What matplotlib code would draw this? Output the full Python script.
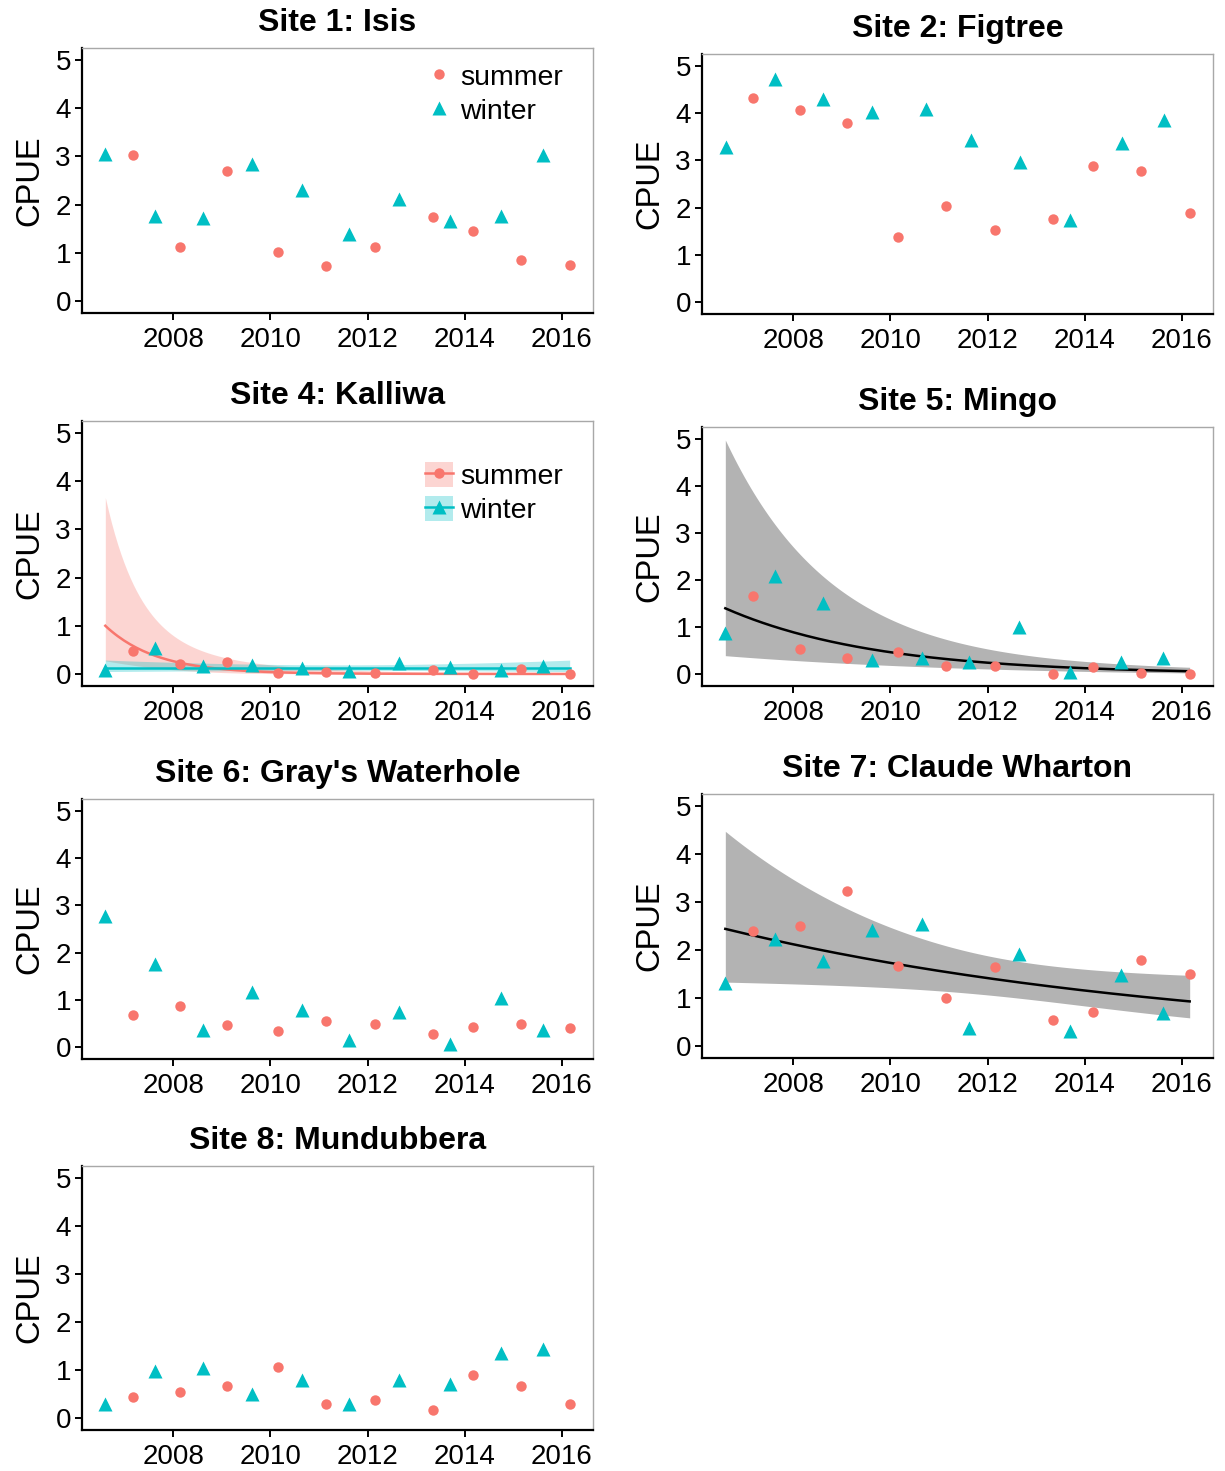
import numpy as np
import matplotlib
matplotlib.use("Agg")
import matplotlib.pyplot as plt
import matplotlib.patches as mpatches
from matplotlib.lines import Line2D

plt.rcParams['font.family'] = ['Liberation Sans', 'DejaVu Sans']

# sampling dates (decimal years)
summer_dates = [2007.16, 2008.14, 2009.10, 2010.15, 2011.15, 2012.16, 2013.34, 2014.17, 2015.16, 2016.16]
winter_dates = [2006.60, 2007.62, 2008.62, 2009.61, 2010.64, 2011.62, 2012.64, 2013.69, 2014.75, 2015.62]
winter_dates_s2 = [2006.61, 2007.62, 2008.62, 2009.61, 2010.74, 2011.66, 2012.66, 2013.69, 2014.76, 2015.63]

# CPUE values
isis_summer = [3.03, 1.11, 2.69, 1.02, 0.73, 1.13, 1.74, 1.45, 0.84, 0.74]
isis_winter = [3.06, 1.77, 1.72, 2.84, 2.30, 1.40, 2.11, 1.65, 1.76, 3.03]

figtree_summer = [4.31, 4.06, 3.80, 1.37, 2.04, 1.52, 1.76, 2.88, 2.78, 1.88]
figtree_winter = [3.28, 4.73, 4.30, 4.02, 4.09, 3.43, 2.97, 1.73, 3.36, 3.85]

kalliwa_summer = [0.48, 0.21, 0.24, 0.03, 0.05, 0.03, 0.09, 0.00, 0.10, 0.00]
kalliwa_winter = [0.09, 0.53, 0.17, 0.19, 0.12, 0.07, 0.22, 0.15, 0.09, 0.17]

mingo_summer = [1.66, 0.54, 0.34, 0.48, 0.18, 0.17, 0.00, 0.16, 0.03, 0.00]
mingo_winter = [0.87, 2.09, 1.51, 0.30, 0.34, 0.26, 1.00, 0.04, 0.25, 0.35]

grays_summer = [0.69, 0.87, 0.46, 0.35, 0.55, 0.49, 0.28, 0.43, 0.49, 0.40]
grays_winter = [2.78, 1.75, 0.37, 1.17, 0.78, 0.16, 0.75, 0.07, 1.03, 0.36]

claude_summer = [2.40, 2.50, 3.22, 1.67, 1.00, 1.65, 0.54, 0.71, 1.80, 1.51]
claude_winter = [1.31, 2.23, 1.78, 2.41, 2.54, 0.38, 1.92, 0.31, 1.47, 0.68]

mund_summer = [0.43, 0.54, 0.66, 1.07, 0.30, 0.37, 0.17, 0.89, 0.67, 0.30]
mund_winter = [0.30, 0.98, 1.05, 0.50, 0.80, 0.29, 0.80, 0.71, 1.35, 1.43]

# log-link smooth fits:
# (fit at first date, slope of log(CPUE) per year,
#  smallest CI half-width on log scale, year where it is smallest, growth of half-width per year)
fit_kalliwa_summer = (1.00, -0.95, 1.10, 2007.9, 0.53)
fit_kalliwa_winter = (0.12, 0.00, 0.45, 2011.4, 0.157)
fit_mingo = (1.40, -0.323, 0.75, 2013.6, 0.146)
fit_claude = (2.44, -0.101, 0.283, 2012.3, 0.094)

col_summer = '#F8766D'
col_winter = '#00BFC4'
ms_dot, ms_tri = 7.5, 9.5


def smooth(ax, params, x_range, color, fill, alpha):
    v0, slope, hmin, tmin, hgrow = params
    xs = np.linspace(x_range[0], x_range[1], 150)
    eta = np.log(v0) + slope * (xs - x_range[0])
    half = np.sqrt(hmin ** 2 + (hgrow * (xs - tmin)) ** 2)
    ax.fill_between(xs, np.exp(eta - half), np.exp(eta + half),
                    color=fill, alpha=alpha, lw=0, zorder=1)
    ax.plot(xs, np.exp(eta), color=color, lw=1.8, zorder=2)


W, H = 1225, 1471
fig = plt.figure(figsize=(W / 100, H / 100), dpi=100)


def make_ax(x0, x1, y0, y1):
    ax = fig.add_axes([x0 / W, 1 - y1 / H, (x1 - x0) / W, (y1 - y0) / H])
    ax.set_xlim(2006.12, 2016.64)
    ax.set_ylim(-0.25, 5.25)
    ax.set_xticks([2008, 2010, 2012, 2014, 2016])
    ax.set_yticks([0, 1, 2, 3, 4, 5])
    for s in ['left', 'bottom']:
        ax.spines[s].set_linewidth(1.6)
        ax.spines[s].set_color('black')
    for s in ['top', 'right']:
        ax.spines[s].set_linewidth(1.0)
        ax.spines[s].set_color('#a8a8a8')
    ax.tick_params(direction='out', length=5, width=1.4, labelsize=20, colors='black')
    ax.tick_params(axis='x', pad=5)
    ax.tick_params(axis='y', pad=3)
    ax.set_ylabel('CPUE', fontsize=23.5, labelpad=7)
    return ax


panels = [
    ('Site 1: Isis', (82, 593, 48, 313), summer_dates, isis_summer, winter_dates, isis_winter, None),
    ('Site 2: Figtree', (702, 1213, 54, 314), summer_dates, figtree_summer, winter_dates_s2, figtree_winter, None),
    ('Site 4: Kalliwa', (82, 593, 421, 686), summer_dates, kalliwa_summer, winter_dates, kalliwa_winter,
     [(fit_kalliwa_summer, col_summer, col_summer, 0.3), (fit_kalliwa_winter, col_winter, col_winter, 0.3)]),
    ('Site 5: Mingo', (702, 1213, 427, 686), summer_dates, mingo_summer, winter_dates, mingo_winter,
     [(fit_mingo, 'black', '#b3b3b3', 1.0)]),
    ("Site 6: Gray's Waterhole", (82, 593, 799, 1059), summer_dates, grays_summer, winter_dates, grays_winter, None),
    ('Site 7: Claude Wharton', (702, 1213, 794, 1058), summer_dates, claude_summer, winter_dates, claude_winter,
     [(fit_claude, 'black', '#b3b3b3', 1.0)]),
    ('Site 8: Mundubbera', (82, 593, 1166, 1430), summer_dates, mund_summer, winter_dates, mund_winter, None),
]

for title, box, ts, ys, tw, yw, fits in panels:
    ax = make_ax(*box)
    ax.set_title(title, fontsize=23, fontweight='bold', pad=12)
    x_range = (min(ts + tw), max(ts + tw))
    if fits:
        for params, c, f, a in fits:
            smooth(ax, params, x_range, c, f, a)
    ax.plot(ts, ys, 'o', color=col_summer, ms=ms_dot, mec='none', zorder=3)
    ax.plot(tw, yw, '^', color=col_winter, ms=ms_tri, mec='none', zorder=3)

    if title.startswith('Site 1'):
        h = [Line2D([], [], ls='none', marker='o', color=col_summer, ms=ms_dot, mec='none'),
             Line2D([], [], ls='none', marker='^', color=col_winter, ms=ms_tri, mec='none')]
        ax.legend(h, ['summer', 'winter'], loc='upper left', bbox_to_anchor=(0.671, 0.945),
                  frameon=False, fontsize=20.5, borderpad=0, handlelength=1.0, handleheight=1.0,
                  handletextpad=0.25, labelspacing=0.2, borderaxespad=0)
    if title.startswith('Site 4'):
        h = [(mpatches.Patch(facecolor=col_summer, alpha=0.3, lw=0),
              Line2D([], [], color=col_summer, marker='o', ms=ms_dot, lw=1.8, mec='none')),
             (mpatches.Patch(facecolor=col_winter, alpha=0.3, lw=0),
              Line2D([], [], color=col_winter, marker='^', ms=ms_tri, lw=1.8, mec='none'))]
        ax.legend(h, ['summer', 'winter'], loc='upper left', bbox_to_anchor=(0.671, 0.847),
                  frameon=False, fontsize=20.5, borderpad=0, handlelength=1.0, handleheight=1.0,
                  handletextpad=0.25, labelspacing=0.2, borderaxespad=0)

fig.savefig('out.png', dpi=100)
